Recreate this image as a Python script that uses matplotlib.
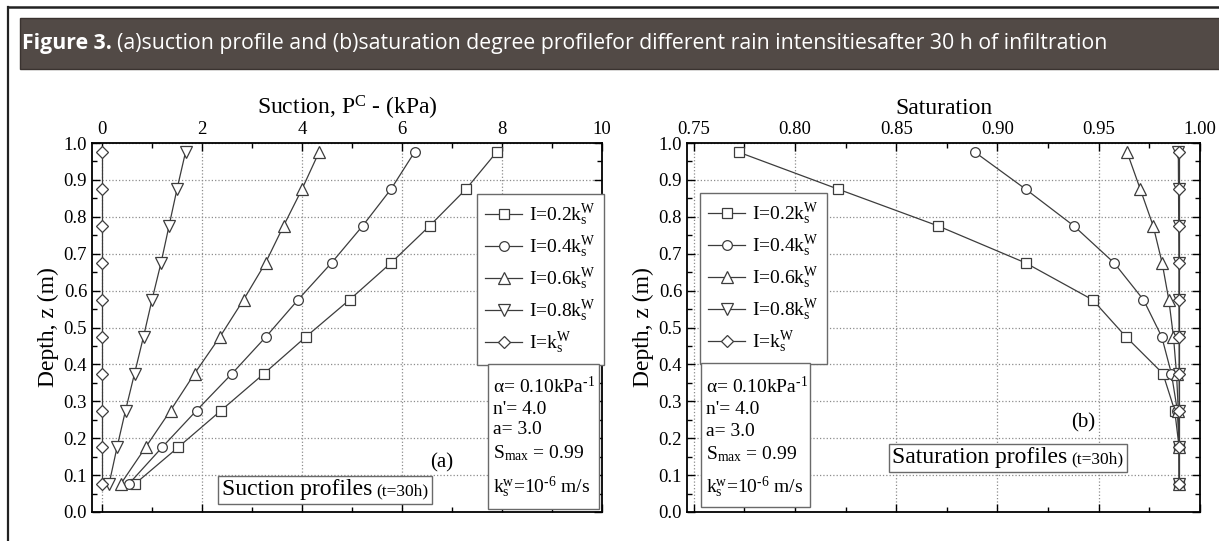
import matplotlib
matplotlib.use('Agg')
import matplotlib.pyplot as plt
from matplotlib.patches import Rectangle
from matplotlib.lines import Line2D
from matplotlib.ticker import MultipleLocator, AutoMinorLocator, FormatStrFormatter
from matplotlib.offsetbox import AnchoredOffsetbox, HPacker, TextArea

W, H = 1219, 541

plt.rcParams['font.family'] = ['Liberation Serif', 'DejaVu Serif']
plt.rcParams['mathtext.fontset'] = 'custom'
plt.rcParams['mathtext.rm'] = 'Liberation Serif'
plt.rcParams['mathtext.it'] = 'Liberation Serif:italic'
plt.rcParams['mathtext.bf'] = 'Liberation Serif:bold'

# data
depth = [0.975, 0.875, 0.775, 0.675, 0.575, 0.475, 0.375, 0.275, 0.175, 0.075]

suction_02 = [7.89, 7.28, 6.55, 5.78, 4.95, 4.08, 3.24, 2.38, 1.52, 0.65]
suction_04 = [6.25, 5.78, 5.21, 4.59, 3.92, 3.28, 2.60, 1.89, 1.20, 0.53]
suction_06 = [4.34, 4.00, 3.63, 3.27, 2.83, 2.36, 1.85, 1.37, 0.87, 0.37]
suction_08 = [1.67, 1.50, 1.34, 1.18, 1.00, 0.83, 0.65, 0.47, 0.30, 0.14]
suction_10 = [0.0, 0.0, 0.0, 0.0, 0.0, 0.0, 0.0, 0.0, 0.0, 0.0]

sat_02 = [0.7723, 0.8213, 0.8708, 0.9139, 0.9470, 0.9634, 0.9817, 0.9875, 0.9897, 0.9898]
sat_04 = [0.8889, 0.9139, 0.9378, 0.9576, 0.9721, 0.9811, 0.9859, 0.9888, 0.9897, 0.9898]
sat_06 = [0.9640, 0.9705, 0.9769, 0.9813, 0.9846, 0.9869, 0.9884, 0.9893, 0.9897, 0.9898]
sat_08 = [0.9893, 0.9894, 0.9895, 0.9896, 0.9896, 0.9897, 0.9897, 0.9898, 0.9898, 0.9898]
sat_10 = [0.9898, 0.9898, 0.9898, 0.9898, 0.9898, 0.9898, 0.9898, 0.9898, 0.9898, 0.9898]

labels = [r'I=0.2k$_{\rm s}^{\rm W}$', r'I=0.4k$_{\rm s}^{\rm W}$', r'I=0.6k$_{\rm s}^{\rm W}$',
          r'I=0.8k$_{\rm s}^{\rm W}$', r'I=k$_{\rm s}^{\rm W}$']
markers = ['s', 'o', '^', 'v', 'D']
msizes = [6.5, 7, 8, 8, 6]

param_lines = [u'\u03b1= 0.10kPa$^{\\text{-1}}$', "n'= 4.0", 'a= 3.0',
               r'S$_{\rm max}$ = 0.99', r'k$_{\rm s}^{\rm w}$=10$^{\text{-6}}$ m/s']

title_bold = 'Figure 3.'
title_rest = '(a)suction profile and (b)saturation degree profilefor different rain intensitiesafter 30 h of infiltration'


def fx(x):
    return x / W


def fy(y):
    return 1 - y / H


fig = plt.figure(figsize=(W / 100, H / 100), dpi=100)

# frame and banner
fig.add_artist(Line2D([fx(8), 1.0], [fy(7), fy(7)], color='#222222', lw=1.8))
fig.add_artist(Line2D([fx(8), fx(8)], [fy(7), 0.0], color='#222222', lw=1.6))
fig.add_artist(Rectangle((fx(20), fy(69)), 1.0, (69 - 18) / H, facecolor='#524a46',
                         edgecolor='#3a3330', lw=1.0))

fs = 15
t1 = fig.text(fx(22), fy(44), title_bold, color='white', family='Open Sans', weight='bold',
              size=fs, va='center')
fig.canvas.draw()
r = fig.canvas.get_renderer()
b1 = t1.get_window_extent(r)
t2 = fig.text((b1.x1 + 5) / W, fy(44), title_rest, color='white', family='Open Sans',
              size=fs, va='center')
b2 = t2.get_window_extent(r)
fs = fs * (1107 - 22) / (b2.x1 - b1.x0)
t1.set_fontsize(fs)
t2.set_fontsize(fs)
fig.canvas.draw()
b1 = t1.get_window_extent(r)
t2.set_x((b1.x1 + 5) / W)


def style_axes(ax):
    for s in ax.spines.values():
        s.set_linewidth(1.3)
    ax.tick_params(which='both', direction='in', top=True, right=True,
                   labeltop=True, labelbottom=False, labelsize=13.5, width=1.0)
    ax.tick_params(which='major', length=6)
    ax.tick_params(which='minor', length=3.5)
    ax.xaxis.set_minor_locator(AutoMinorLocator(2))
    ax.yaxis.set_major_locator(MultipleLocator(0.1))
    ax.yaxis.set_minor_locator(AutoMinorLocator(2))
    ax.yaxis.set_major_formatter(FormatStrFormatter('%.1f'))
    ax.set_ylim(0, 1.0)
    ax.grid(True, which='major', linestyle=':', color='#8c8c8c', lw=0.9)
    ax.set_axisbelow(True)
    ax.xaxis.set_label_position('top')
    ax.set_ylabel('Depth, z (m)', fontsize=17, labelpad=3)


def draw_series(ax, xs_list):
    handles = []
    for xs, m, ms, lab in zip(xs_list, markers, msizes, labels):
        h, = ax.plot(xs, depth, marker=m, ms=ms, mfc='white', mec='#3c3c3c', mew=0.9,
                     color='#3c3c3c', lw=0.9, label=lab, clip_on=False)
        handles.append(h)
    return handles


def legend_at(ax, x0, y0):
    leg = ax.legend(loc='upper left', bbox_to_anchor=(fx(x0), fy(y0)),
                    bbox_transform=fig.transFigure, fontsize=14, frameon=True,
                    fancybox=False, edgecolor='#6a6a6a', framealpha=1,
                    labelspacing=0.33, borderpad=0.42, handlelength=1.9,
                    handletextpad=0.35, borderaxespad=0)
    leg.get_frame().set_linewidth(1.0)
    leg.set_zorder(7)


def param_box(x0, x1, y0, y1, ys):
    fig.add_artist(Rectangle((fx(x0), fy(y1)), (x1 - x0) / W, (y1 - y0) / H,
                             facecolor='white', edgecolor='#6a6a6a', lw=1.0, zorder=5))
    for line, yy in zip(param_lines, ys):
        fig.text(fx(x0 + 5), fy(yy), line, fontsize=14, va='center', zorder=6)


def profile_box(main, small, xc, yc):
    pack = HPacker(children=[TextArea(main, textprops=dict(fontsize=17)),
                             TextArea(small, textprops=dict(fontsize=12.5))],
                   align='baseline', pad=0, sep=3)
    box = AnchoredOffsetbox(loc='center', child=pack, pad=0.25, borderpad=0,
                            frameon=True, bbox_to_anchor=(fx(xc), fy(yc)),
                            bbox_transform=fig.transFigure)
    box.patch.set_edgecolor('#6a6a6a')
    box.patch.set_linewidth(1.0)
    box.patch.set_boxstyle('square', pad=0)
    box.set_zorder(6)
    fig.add_artist(box)


# (a) suction
axL = fig.add_axes([fx(92), fy(512), (602 - 92) / W, (512 - 143) / H])
style_axes(axL)
draw_series(axL, [suction_02, suction_04, suction_06, suction_08, suction_10])
axL.set_xlim(-0.2, 10)
axL.xaxis.set_major_locator(MultipleLocator(2))
axL.set_xlabel(r'Suction, P$^{\rm C}$ - (kPa)', fontsize=17, labelpad=5)
legend_at(axL, 477, 194)
param_box(488, 599, 364, 509, [387, 409, 430, 453, 487])
profile_box('Suction profiles', '(t=30h)', 325, 490)
fig.text(fx(442), fy(463), '(a)', fontsize=15, va='center', ha='center')

# (b) saturation
axR = fig.add_axes([fx(687), fy(512), (1200 - 687) / W, (512 - 143) / H])
style_axes(axR)
draw_series(axR, [sat_02, sat_04, sat_06, sat_08, sat_10])
axR.set_xlim(0.7467, 1.0)
axR.xaxis.set_major_locator(MultipleLocator(0.05))
axR.xaxis.set_major_formatter(FormatStrFormatter('%.2f'))
axR.set_xlabel('Saturation', fontsize=17, labelpad=5)
legend_at(axR, 700, 193)
param_box(701, 810, 363, 507, [387, 409, 431, 454, 487])
profile_box('Saturation profiles', '(t=30h)', 1008, 458)
fig.text(fx(1083), fy(423), '(b)', fontsize=15, va='center', ha='center')

fig.savefig('out.png', dpi=100)
